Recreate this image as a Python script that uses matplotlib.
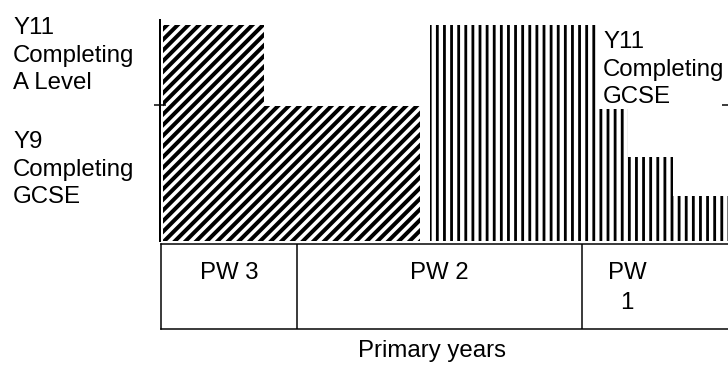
import matplotlib.pyplot as plt

plt.rcParams['font.family'] = ['Liberation Sans', 'DejaVu Sans']

W, H, DPI = 728, 376, 128
PT = 72 / DPI  # points per pixel

# step blocks along the primary years (x measured from the y axis)
hatched_edges = [3, 104, 260]
hatched_heights = [1.59, 0.99]
vertical_edges = [270, 437, 468, 513, 568]
vertical_heights = [1.59, 0.97, 0.62, 0.33]

phase_edges = [1, 137, 422, 512]
phase_labels = ["PW 3", "PW 2", "PW\n1"]

left_labels = ["Y11\nCompleting\nA Level", "Y9\nCompleting\nGCSE"]
right_label = "Y11\nCompleting\nGCSE"
x_label = "Primary years"

FS = 24 * PT

fig = plt.figure(figsize=(W / DPI, H / DPI), dpi=DPI)

# main step chart
ax = fig.add_axes([160 / W, (H - 241) / H, 568 / W, 221 / H])
ax.set_xlim(0, 568)
ax.set_ylim(0, 221 / 136)

plt.rcParams['hatch.linewidth'] = 4.0 * PT
lefts = hatched_edges[:-1]
widths = [b - a for a, b in zip(hatched_edges[:-1], hatched_edges[1:])]
bars1 = ax.bar(lefts, hatched_heights, width=widths, align='edge',
               color='white', edgecolor='black', linewidth=0, hatch='////')

plt.rcParams['hatch.linewidth'] = 2.8 * PT
lefts = vertical_edges[:-1]
widths = [b - a for a, b in zip(vertical_edges[:-1], vertical_edges[1:])]
bars2 = ax.bar(lefts, vertical_heights, width=widths, align='edge',
               color='white', edgecolor='black', linewidth=0, hatch='|||')

for b in bars1:
    if hasattr(b, 'set_hatch_linewidth'):
        b.set_hatch_linewidth(4.0 * PT)
for b in bars2:
    if hasattr(b, 'set_hatch_linewidth'):
        b.set_hatch_linewidth(2.8 * PT)

for s in ['top', 'right', 'bottom']:
    ax.spines[s].set_visible(False)
ax.spines['left'].set_linewidth(2 * PT)
ax.set_xticks([])
ax.set_yticks([1])
ax.set_yticklabels([])
ax.tick_params(axis='y', left=True, right=True, direction='inout',
               length=12 * PT, width=1.5 * PT)

# phase table under the chart
ax2 = fig.add_axes([161 / W, (H - 329) / H, 567 / W, 85 / H])
ax2.set_xlim(1, 568)
ax2.set_ylim(0, 1)
ax2.spines['right'].set_visible(False)
for s in ['left', 'top', 'bottom']:
    ax2.spines[s].set_linewidth(1.5 * PT)
ax2.set_xticks([])
ax2.set_yticks([])
for e in phase_edges[1:-1]:
    ax2.axvline(e, color='black', lw=1.5 * PT)
for i, lab in enumerate(phase_labels):
    mid = (phase_edges[i] + phase_edges[i + 1]) / 2
    ax2.text(mid, 0.785, lab, ha='center', va='top', fontsize=FS,
             multialignment='center', linespacing=1.46)

fig.text(432 / W, (H - 357) / H, x_label, ha='center', va='baseline', fontsize=FS)

fig.text(13 / W, (H - 17) / H, left_labels[0], ha='left', va='top',
         fontsize=FS, linespacing=1.33)
fig.text(13 / W, (H - 131) / H, left_labels[1], ha='left', va='top',
         fontsize=FS, linespacing=1.33)
fig.text(603 / W, (H - 31) / H, right_label, ha='left', va='top',
         fontsize=FS, linespacing=1.33)

fig.savefig('out.png', dpi=DPI)
